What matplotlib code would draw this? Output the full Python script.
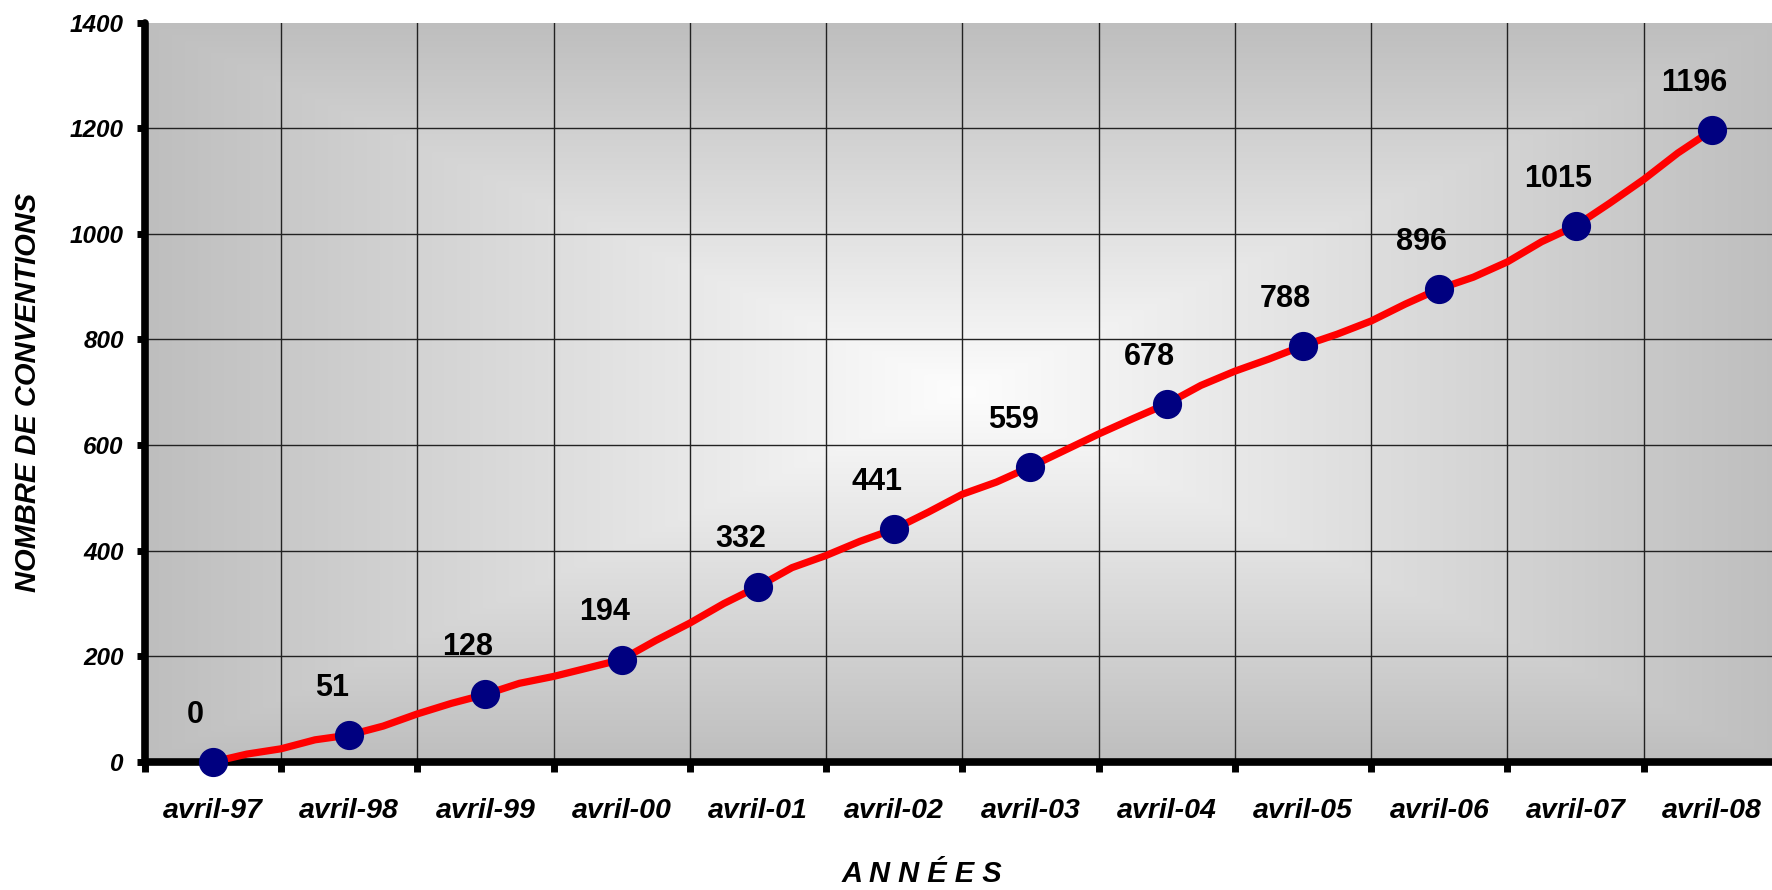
import numpy as np
import matplotlib
matplotlib.use("Agg")
import matplotlib.pyplot as plt
from matplotlib.ticker import FixedLocator, NullFormatter

# Yearly labels and cumulative number of agreements at each April
years = ["avril-97", "avril-98", "avril-99", "avril-00", "avril-01", "avril-02",
         "avril-03", "avril-04", "avril-05", "avril-06", "avril-07", "avril-08"]
annual_totals = [0, 51, 128, 194, 332, 441, 559, 678, 788, 896, 1015, 1196]

# Quarterly cumulative counts (April, July, October, January of each year)
quarterly_totals = [
    0, 15, 25, 42,
    51, 68, 91, 111,
    128, 149, 162, 178,
    194, 230, 263, 300,
    332, 368, 391, 418,
    441, 473, 507, 530,
    559, 590, 621, 650,
    678, 713, 740, 763,
    788, 810, 835, 867,
    896, 918, 947, 985,
    1015, 1058, 1103, 1153,
    1196,
]

plt.rcParams["font.family"] = ["Liberation Sans", "DejaVu Sans"]

fig = plt.figure(figsize=(17.72, 8.90), dpi=100)
ax = fig.add_axes([144.7 / 1772, 1 - 762 / 890, (1780 - 144.7) / 1772, (762 - 22.6) / 890])

x_annual = np.arange(len(years))
x_quarter = np.arange(len(quarterly_totals)) / 4.0

ax.set_xlim(-0.5, len(years) - 0.5)
ax.set_ylim(0, 1400)

# Centre-out grey shading of the plotting area
nx, ny = 600, 300
u = np.linspace(-1, 1, nx)
v = np.linspace(-1, 1, ny)
U, V = np.meshgrid(u, v)
t = np.maximum(np.abs(U), np.abs(V))
grey = (253 - t * (253 - 190)) / 255.0
img = np.dstack([grey, grey, grey])
ax.imshow(img, extent=(-0.5, len(years) - 0.5, 0, 1400), aspect="auto",
          origin="lower", zorder=0, interpolation="bilinear")

# Axes, ticks and grid
for side in ("top", "right"):
    ax.spines[side].set_visible(False)
for side in ("left", "bottom"):
    ax.spines[side].set_linewidth(5.5)
    ax.spines[side].set_capstyle("round")

ax.set_xticks(x_annual)
ax.set_xticklabels(years, fontsize=20.5, fontweight="bold", fontstyle="italic")
ax.xaxis.set_minor_locator(FixedLocator(np.arange(0, len(years)) - 0.5))
ax.xaxis.set_minor_formatter(NullFormatter())
ax.tick_params(axis="x", which="major", length=0, pad=26)
ax.tick_params(axis="x", which="minor", length=7, width=5, direction="out", color="black")

ax.set_yticks(np.arange(0, 1401, 200))
ax.set_yticklabels([str(v) for v in range(0, 1401, 200)], fontsize=17.5,
                   fontweight="bold", fontstyle="italic")
ax.tick_params(axis="y", length=6, width=5, direction="out", pad=9, color="black")

ax.set_axisbelow(True)
ax.grid(axis="x", which="minor", color="#222222", linewidth=1.0, zorder=0.5)
ax.grid(axis="y", which="major", color="#222222", linewidth=1.0, zorder=0.5)
gl = ax.yaxis.get_gridlines()
gl[-1].set_visible(False)

# Data line and yearly markers
ax.plot(x_quarter, quarterly_totals, color="#ff0000", linewidth=5.2,
        solid_joinstyle="round", solid_capstyle="round", zorder=3)
ax.plot(x_annual, annual_totals, linestyle="none", marker="o", markersize=20,
        markerfacecolor="#000080", markeredgecolor="#000080", zorder=4, clip_on=False)

for xi, val in zip(x_annual, annual_totals):
    ax.annotate(str(val), (xi, val), xytext=(-12.5, 34), textcoords="offset points",
                ha="center", va="center", fontsize=22, fontweight="bold", zorder=5)

fig.text(28 / 1772, 1 - 392 / 890, "NOMBRE DE CONVENTIONS", rotation=90,
         ha="center", va="center", fontsize=21, fontweight="bold", fontstyle="italic")
fig.text(922 / 1772, 1 - 874 / 890, "A N N É E S", ha="center", va="center",
         fontsize=21, fontweight="bold", fontstyle="italic")

fig.savefig("out.png", dpi=100)
